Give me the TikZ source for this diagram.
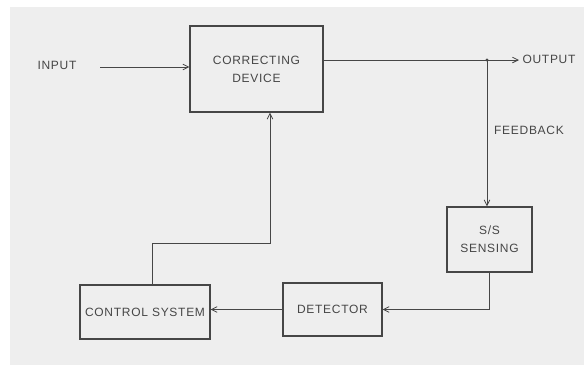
\documentclass[tikz,border=0pt]{standalone}
\usepackage{fontspec}
\setmainfont{Liberation Sans}[LetterSpace=6]
\usetikzlibrary{arrows.meta,positioning,calc}
\definecolor{PaperGray}{RGB}{238,238,238}
\definecolor{InkGray}{RGB}{70,70,70}

\tikzset{
  blockbox/.style={draw=InkGray,line width=1.1pt,align=center,inner sep=0pt,font=\fontsize{12}{18}\selectfont,text=InkGray},
  wire/.style={draw=InkGray,line width=0.8pt},
  sig/.style={wire,-{Straight Barb[length=2mm,width=2mm]}},
  tag/.style={font=\fontsize{12}{14}\selectfont,text=InkGray}
}

\begin{document}
\begin{tikzpicture}[x=1pt,y=-1pt]
    \useasboundingbox (0,0) rectangle (584,365);
    \fill[PaperGray] (10,7) rectangle (584,365);
    % blocks
    \node[blockbox,minimum width=133pt,minimum height=86pt] (cd) at (256.5,69) {CORRECTING\\DEVICE};
    \node[blockbox,minimum width=85pt,minimum height=65pt] (ss) at (489.5,239.5) {S/S\\SENSING};
    \node[blockbox,minimum width=99pt,minimum height=53pt] (det) at (332.5,309.5) {DETECTOR};
    \node[blockbox,minimum width=130pt,minimum height=54pt] (cs) at (145,312) {CONTROL SYSTEM};
    % labels
    \node[tag] (inp) at (57,65) {INPUT};
    \node[tag] (out) at (549,59) {OUTPUT};
    \node[tag] (fbk) at (529,130) {FEEDBACK};
    \coordinate (inA) at (100,67);
    \coordinate (jn) at (487,60);
    \coordinate (bend) at (270,243);
    % connectors
    \draw[sig] (inA) -- (inA -| cd.west);
    \draw[sig] (cd.east |- jn) -- (out.west |- jn);
    \fill[InkGray] (jn) circle (1.6pt);
    \draw[sig] (jn) -- (jn |- ss.north);
    \draw[sig] (ss.south) |- (det.east);
    \draw[sig] (det.west) -- (det.west -| cs.east);
    \draw[sig] ([xshift=7pt]cs.north) |- (bend) -- (bend |- cd.south);
  \end{tikzpicture}
\end{document}
